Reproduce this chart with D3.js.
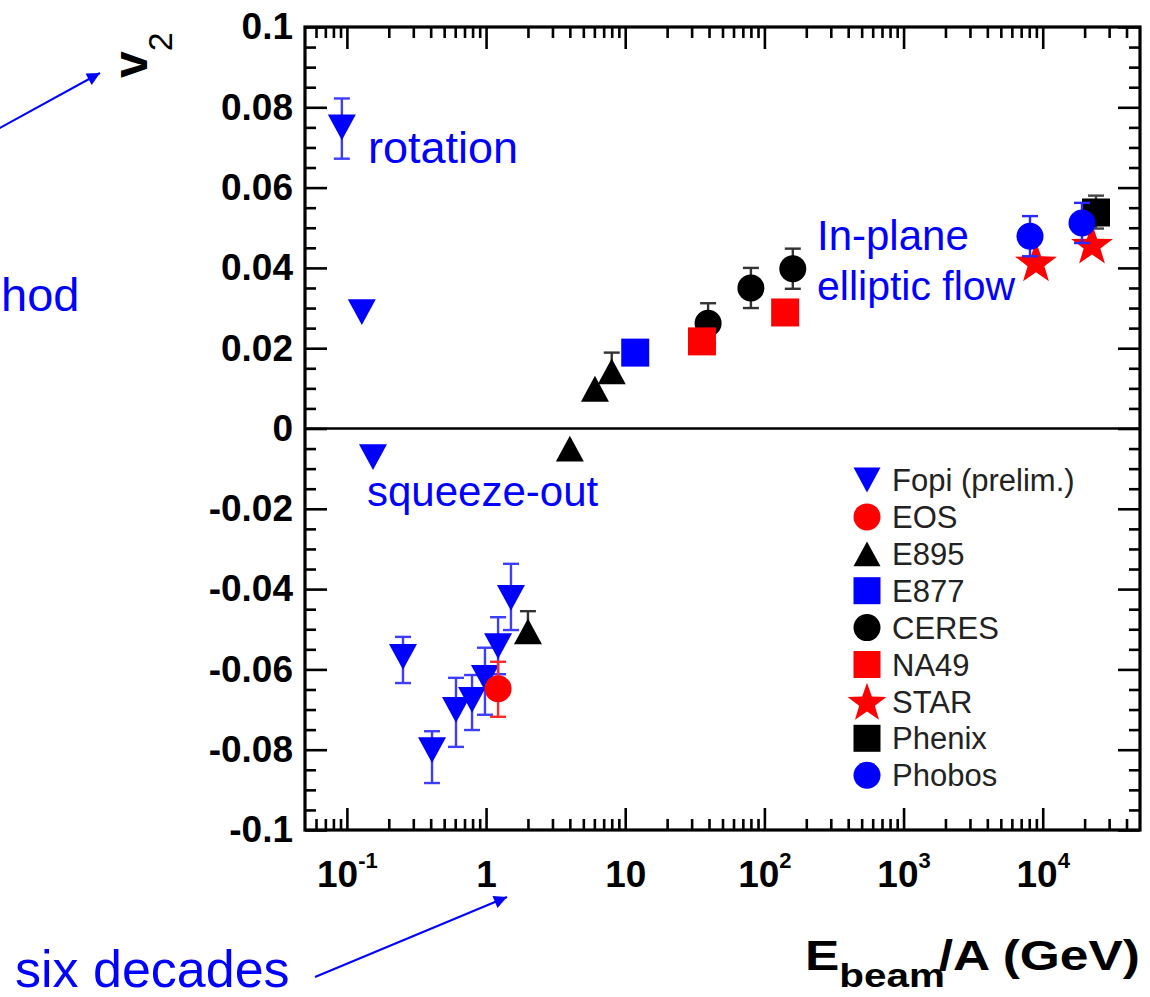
<!DOCTYPE html>
<html>
<head>
<meta charset="utf-8">
<script src="https://cdn.jsdelivr.net/npm/d3@7"></script>
<style>
  body { margin: 0; background: #fff; }
  svg { display: block; font-family: "Liberation Sans", Arial, Helvetica, sans-serif; }
</style>
</head>
<body>
<div id="chart"></div>
<script>
// beam energy per nucleon (GeV), v2, upper / lower error
var fopiE     = [0.092, 0.128, 0.154, 0.253, 0.409, 0.608, 0.793, 0.982, 1.22, 1.51];
var fopiV2    = [0.0750, 0.0290, -0.0071, -0.0569, -0.0801, -0.0701, -0.0676, -0.0621, -0.0542, -0.0422];
var fopiErrHi = [0.0072, 0, 0, 0.0050, 0.0047, 0.0080, 0.0062, 0.0075, 0.0072, 0.0085];
var fopiErrLo = [0.0078, 0, 0, 0.0065, 0.0082, 0.0092, 0.0075, 0.0092, 0.0070, 0.0080];

var eosE = [1.22], eosV2 = [-0.0648], eosErrHi = [0.0067], eosErrLo = [0.0070];

var e895E     = [2.0, 4.0, 6.06, 8.0];
var e895V2    = [-0.0505, -0.0050, 0.0099, 0.0142];
var e895ErrHi = [0.0050, 0, 0, 0.0047];
var e895ErrLo = [0, 0, 0, 0];

var e877E = [11.8], e877V2 = [0.0189], e877ErrHi = [0], e877ErrLo = [0];

var ceresE     = [39.4, 80, 160];
var ceresV2    = [0.0262, 0.0350, 0.0398];
var ceresErrHi = [0.0050, 0.0050, 0.0050];
var ceresErrLo = [0.0050, 0.0050, 0.0050];

var na49E = [35.6, 141], na49V2 = [0.0217, 0.0289], na49ErrHi = [0, 0], na49ErrLo = [0, 0];

var starE = [8945, 22600], starV2 = [0.0416, 0.0460], starErrHi = [0, 0], starErrLo = [0, 0];

var phenixE = [24140], phenixV2 = [0.0538], phenixErrHi = [0.0042], phenixErrLo = [0.0040];

var phobosE     = [8100, 19150];
var phobosV2    = [0.0479, 0.0512];
var phobosErrHi = [0.0050, 0.0050];
var phobosErrLo = [0.0050, 0.0050];

var seriesNames = ["Fopi (prelim.)", "EOS", "E895", "E877", "CERES", "NA49", "STAR", "Phenix", "Phobos"];

var xTickVals = [0.1, 1, 10, 100, 1000, 10000];
var xTickBase = ["10", "1", "10", "10", "10", "10"];
var xTickSup  = ["-1", "", "", "2", "3", "4"];
var yTickVals   = [0.1, 0.08, 0.06, 0.04, 0.02, 0, -0.02, -0.04, -0.06, -0.08, -0.1];
var yTickLabels = ["0.1", "0.08", "0.06", "0.04", "0.02", "0", "-0.02", "-0.04", "-0.06", "-0.08", "-0.1"];

var series = [
  {name: seriesNames[0], e: fopiE,   v: fopiV2,   hi: fopiErrHi,   lo: fopiErrLo,   shape: "triDown", color: "#0000ff", err: "#3d3dff"},
  {name: seriesNames[1], e: eosE,    v: eosV2,    hi: eosErrHi,    lo: eosErrLo,    shape: "circle",  color: "#ff0000", err: "#ff2a2a"},
  {name: seriesNames[2], e: e895E,   v: e895V2,   hi: e895ErrHi,   lo: e895ErrLo,   shape: "triUp",   color: "#000000", err: "#333"},
  {name: seriesNames[3], e: e877E,   v: e877V2,   hi: e877ErrHi,   lo: e877ErrLo,   shape: "square",  color: "#0000ff", err: "#0000ff"},
  {name: seriesNames[4], e: ceresE,  v: ceresV2,  hi: ceresErrHi,  lo: ceresErrLo,  shape: "circle",  color: "#000000", err: "#333"},
  {name: seriesNames[5], e: na49E,   v: na49V2,   hi: na49ErrHi,   lo: na49ErrLo,   shape: "square",  color: "#ff0000", err: "#ff0000"},
  {name: seriesNames[6], e: starE,   v: starV2,   hi: starErrHi,   lo: starErrLo,   shape: "star",    color: "#ff0000", err: "#ff0000"},
  {name: seriesNames[7], e: phenixE, v: phenixV2, hi: phenixErrHi, lo: phenixErrLo, shape: "square",  color: "#000000", err: "#444"},
  {name: seriesNames[8], e: phobosE, v: phobosV2, hi: phobosErrHi, lo: phobosErrLo, shape: "circle",  color: "#0000ff", err: "#2a2aff"}
];

var margin = {top: 27, left: 305},
    plotW = 1140 - 305,
    plotH = 830 - 27;

var svg = d3.select("#chart")
  .append("svg")
  .attr("width", 1150)
  .attr("height", 997);

var g = svg.append("g")
  .attr("transform", "translate(" + margin.left + "," + margin.top + ")");

var x = d3.scaleLog().domain([0.05, 5e4]).range([0, plotW]);
var y = d3.scaleLinear().domain([-0.1, 0.1]).range([plotH, 0]);

// marker shapes, centred on their bounding box
function shapePath(shape, s) {
  var h = s / 2;
  if (shape == "triDown") return "M" + (-h) + "," + (-h * 0.92) + "L" + h + "," + (-h * 0.92) + "L0," + (h * 0.92) + "Z";
  if (shape == "triUp") return "M" + (-h) + "," + (h * 0.92) + "L" + h + "," + (h * 0.92) + "L0," + (-h * 0.92) + "Z";
  if (shape == "square") return "M" + (-h) + "," + (-h) + "H" + h + "V" + h + "H" + (-h) + "Z";
  if (shape == "circle") return d3.arc()({innerRadius: 0, outerRadius: h, startAngle: 0, endAngle: 2 * Math.PI});
  if (shape == "star") {
    var pts = [];
    for (var k = 0; k < 10; k++) {
      var r = k % 2 == 0 ? h : h * 0.4;
      var a = -Math.PI / 2 + k * Math.PI / 5;
      pts.push([r * Math.cos(a), r * Math.sin(a) + h * 0.09]);
    }
    return "M" + pts.join("L") + "Z";
  }
}
var markerSize = {triDown: 28, triUp: 28, square: 28, circle: 27, star: 44};
var legendSize = {triDown: 27, triUp: 27, square: 27, circle: 27, star: 41};

// ticks on all four sides, pointing inward
var xMinor = x.ticks().filter(function(d) { return xTickVals.indexOf(d) < 0 && d > 0.05 && d < 5e4; });
var yMinor = y.ticks(40).filter(function(d) { return Math.abs(Math.round(d * 50) - d * 50) > 1e-6; });

function tickAxis(axis, vals, size) {
  return axis.tickValues(vals).tickSize(size).tickFormat("");
}
var tickLayers = [
  [d3.axisTop(x), "translate(0," + plotH + ")", xMinor, xTickVals],
  [d3.axisBottom(x), "translate(0,0)", xMinor, xTickVals],
  [d3.axisRight(y), "translate(0,0)", yMinor, yTickVals],
  [d3.axisLeft(y), "translate(" + plotW + ",0)", yMinor, yTickVals]
];
tickLayers.forEach(function(t) {
  g.append("g").attr("transform", t[1]).call(tickAxis(t[0], t[2], 11));
  g.append("g").attr("transform", t[1]).call(tickAxis(t[0], t[3], 22));
});
g.selectAll(".domain").remove();
g.selectAll(".tick line").attr("stroke", "#000").attr("stroke-width", 2.6);

// zero line
g.append("line")
  .attr("x1", 0).attr("x2", plotW)
  .attr("y1", y(0)).attr("y2", y(0))
  .attr("stroke", "#000").attr("stroke-width", 2.6);

// frame
g.append("rect")
  .attr("width", plotW).attr("height", plotH)
  .attr("fill", "none").attr("stroke", "#000").attr("stroke-width", 3.2);

// tick labels
var yLab = g.append("g")
  .call(d3.axisLeft(y).tickValues(yTickVals).tickSize(0).tickPadding(12)
    .tickFormat(function(d, i) { return yTickLabels[i]; }));
yLab.select(".domain").remove();
yLab.attr("font-family", null).attr("font-size", null);
yLab.selectAll("text").attr("font-size", 37).attr("font-weight", "bold").attr("fill", "#000");

var xLab = g.append("g")
  .attr("transform", "translate(0," + plotH + ")")
  .call(d3.axisBottom(x).tickValues(xTickVals).tickSize(0).tickPadding(31).tickFormat(""));
xLab.select(".domain").remove();
xLab.attr("font-family", null).attr("font-size", null);
xLab.selectAll("text").each(function(d, i) {
  var t = d3.select(this).attr("font-size", 37).attr("font-weight", "bold").attr("fill", "#000");
  t.append("tspan").text(xTickBase[i]);
  if (xTickSup[i]) {
    t.append("tspan").attr("dy", -19).attr("font-size", 22).text(xTickSup[i]);
  }
});

// data
var plot = g.append("g");
series.forEach(function(s) {
  var pts = s.e.map(function(e, i) { return {e: e, v: s.v[i], hi: s.hi[i], lo: s.lo[i]}; });
  var eb = plot.append("g").attr("stroke", s.err).attr("stroke-width", 2.4);
  pts.filter(function(p) { return p.hi > 0 || p.lo > 0; }).forEach(function(p) {
    var cx = x(p.e), y1 = y(p.v + p.hi), y0 = y(p.v - p.lo);
    eb.append("line").attr("x1", cx).attr("x2", cx).attr("y1", y1).attr("y2", y0);
    if (p.hi > 0) eb.append("line").attr("x1", cx - 8).attr("x2", cx + 8).attr("y1", y1).attr("y2", y1);
    if (p.lo > 0) eb.append("line").attr("x1", cx - 8).attr("x2", cx + 8).attr("y1", y0).attr("y2", y0);
  });
  plot.append("g").selectAll("path")
    .data(pts)
    .enter().append("path")
    .attr("d", shapePath(s.shape, markerSize[s.shape]))
    .attr("transform", function(p) { return "translate(" + x(p.e) + "," + y(p.v) + ")"; })
    .attr("fill", s.color);
});

// legend
var legend = svg.append("g").attr("transform", "translate(867,480)");
series.forEach(function(s, i) {
  var row = legend.append("g").attr("transform", "translate(0," + (i * 36.9) + ")");
  row.append("path").attr("d", shapePath(s.shape, legendSize[s.shape])).attr("fill", s.color);
  row.append("text").attr("x", 25).attr("dy", "0.36em")
    .attr("font-size", 31).attr("fill", "#222").text(s.name);
});

// axis titles
var yTitle = svg.append("text")
  .attr("transform", "translate(147,78) rotate(-90)")
  .attr("fill", "#000");
yTitle.append("tspan").attr("font-size", 48).attr("font-weight", "bold").text("v");
yTitle.append("tspan").attr("font-size", 34).attr("dy", 25).text("2");

var xTitle = svg.append("text").attr("fill", "#000").attr("font-weight", "bold");
xTitle.append("tspan").attr("font-size", 42).text("E");
xTitle.append("tspan").attr("font-size", 33).attr("dy", 17).text("beam");
xTitle.append("tspan").attr("font-size", 42).attr("dy", -17).attr("dx", -5).text("/A (GeV)");
var xw = xTitle.node().getBBox().width;
xTitle.attr("transform", "translate(805,970) scale(" + (335 / xw) + ",1)");

// annotations
var blue = "#0000ff";
var notes = svg.append("g").attr("fill", blue);
notes.append("text").attr("x", 368).attr("y", 163).attr("font-size", 45).text("rotation");
notes.append("text").attr("x", 367).attr("y", 506).attr("font-size", 42).text("squeeze-out");
notes.append("text").attr("x", 817).attr("y", 250).attr("font-size", 42).text("In-plane");
notes.append("text").attr("x", 817).attr("y", 300).attr("font-size", 41).text("elliptic flow");
notes.append("text").attr("x", 1).attr("y", 311).attr("font-size", 47).text("hod");
notes.append("text").attr("x", 15).attr("y", 987).attr("font-size", 52).text("six decades");

svg.append("defs").append("marker")
  .attr("id", "arrow")
  .attr("viewBox", "0 0 10 10")
  .attr("refX", 10).attr("refY", 5)
  .attr("markerWidth", 18).attr("markerHeight", 13)
  .attr("markerUnits", "userSpaceOnUse")
  .attr("orient", "auto")
  .append("path").attr("d", "M0,0L10,5L0,10Z").attr("fill", blue);

svg.append("line")
  .attr("x1", -2).attr("y1", 129).attr("x2", 100).attr("y2", 73)
  .attr("stroke", blue).attr("stroke-width", 2).attr("marker-end", "url(#arrow)");
svg.append("line")
  .attr("x1", 315).attr("y1", 977).attr("x2", 507).attr("y2", 897)
  .attr("stroke", blue).attr("stroke-width", 2).attr("marker-end", "url(#arrow)");
</script>
</body>
</html>
